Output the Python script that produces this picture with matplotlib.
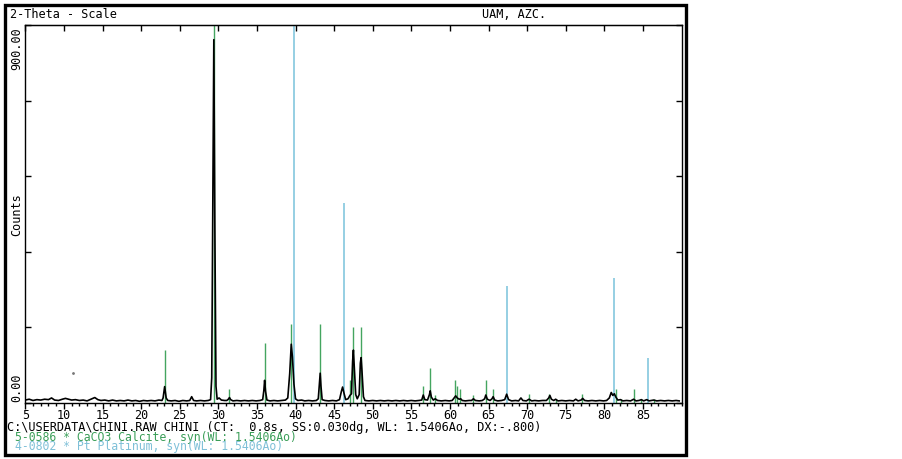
import matplotlib
matplotlib.use('Agg')
import matplotlib.pyplot as plt
from matplotlib.patches import Rectangle

W, H = 903, 459

# measured trace (2-theta, counts)
tt = [5.0, 5.5, 6.0, 6.5, 7.0, 7.5, 8.0, 8.4, 8.8, 9.3, 9.8, 10.2, 10.6, 11.0, 11.5,
      12.0, 12.5, 13.0, 13.5, 14.0, 14.4, 14.8, 15.3, 15.8, 16.3, 16.8, 17.3, 17.8,
      18.3, 18.8, 19.3, 19.8, 20.3, 20.8, 21.3, 21.8, 22.3, 22.7,
      22.85, 23.05, 23.25, 23.45, 23.9, 24.4, 24.9, 25.4, 25.9, 26.3, 26.55, 26.8,
      27.2, 27.7, 28.2, 28.7, 29.0,
      29.15, 29.3, 29.42, 29.55, 29.7, 29.85, 30.1, 30.4, 30.8, 31.1, 31.3, 31.45,
      31.6, 31.9, 32.4, 32.9, 33.4, 33.9, 34.4, 34.9, 35.4, 35.75, 35.9, 36.0,
      36.12, 36.3, 36.7, 37.2, 37.7, 38.2, 38.7, 39.0, 39.25, 39.45, 39.6, 39.8,
      40.0, 40.3, 40.8, 41.2, 41.7, 42.2, 42.7, 42.95, 43.1, 43.2, 43.3, 43.45,
      43.8, 44.3, 44.8, 45.3, 45.7, 45.95, 46.1, 46.3, 46.5, 46.8, 47.05, 47.25,
      47.4, 47.5, 47.6, 47.8, 48.0, 48.25, 48.4, 48.5, 48.6, 48.8, 49.0, 49.5,
      50.0, 50.5, 51.0, 51.5, 52.0, 52.5, 53.0, 53.5, 54.0, 54.5, 55.0, 55.5,
      56.0, 56.35, 56.55, 56.75, 57.1, 57.35, 57.45, 57.6, 57.85, 58.1, 58.4,
      58.9, 59.4, 59.9, 60.3, 60.55, 60.75, 60.95, 61.2, 61.4, 61.6, 62.0, 62.5,
      62.8, 63.05, 63.3, 63.8, 64.2, 64.5, 64.65, 64.85, 65.2, 65.45, 65.6, 65.8,
      66.2, 66.7, 67.1, 67.35, 67.6, 68.0, 68.5, 68.9, 69.2, 69.45, 69.9, 70.25,
      70.6, 71.0, 71.5, 72.0, 72.5, 72.8, 72.95, 73.15, 73.45, 73.7, 74.0, 74.5,
      75.0, 75.5, 76.0, 76.3, 76.6, 77.0, 77.2, 77.45, 77.9, 78.4, 78.9, 79.4,
      79.9, 80.3, 80.65, 80.9, 81.1, 81.3, 81.5, 81.75, 82.1, 82.4, 82.9, 83.4,
      83.8, 84.1, 84.5, 84.8, 85.1, 85.5, 85.8, 86.1, 86.4, 86.8, 87.3, 87.8,
      88.3, 88.8, 89.3, 89.7]
counts = [7, 9, 6, 8, 7, 9, 8, 12, 7, 6, 9, 11, 9, 7, 8,
          6, 7, 5, 9, 13, 8, 6, 7, 5, 7, 5, 6, 5,
          7, 5, 6, 4, 6, 5, 6, 5, 7, 6,
          12, 39, 12, 6, 5, 6, 4, 6, 5, 6, 15, 6,
          5, 6, 5, 6, 8,
          60, 520, 865, 430, 40, 9, 12, 7, 6, 6, 9, 13,
          8, 5, 6, 5, 6, 5, 6, 5, 6, 8, 30, 54,
          28, 7, 5, 6, 5, 6, 7, 12, 70, 140, 110, 45,
          10, 6, 7, 5, 6, 5, 6, 10, 45, 71, 40, 8,
          6, 5, 6, 5, 8, 28, 38, 22, 8, 10, 18, 22,
          100, 126, 90, 20, 10, 20, 95, 108, 80, 15, 6, 5,
          6, 5, 6, 5, 6, 5, 6, 5, 6, 5, 6, 5,
          6, 7, 19, 8, 7, 20, 29, 14, 7, 10, 6,
          5, 6, 5, 6, 12, 17, 12, 9, 10, 6, 5, 6,
          6, 10, 6, 5, 6, 10, 19, 9, 6, 10, 15, 7,
          5, 6, 8, 21, 8, 5, 6, 5, 12, 6, 5, 9,
          5, 6, 5, 6, 6, 12, 18, 9, 6, 9, 5, 6,
          5, 6, 5, 9, 5, 7, 11, 6, 5, 6, 5, 6,
          5, 6, 12, 25, 18, 22, 14, 7, 8, 5, 6, 5,
          9, 5, 6, 8, 5, 8, 5, 6, 7, 5, 6, 5,
          6, 5, 6, 5]

# reference patterns: position, relative intensity (%)
calcite_pos = [23.05, 29.40, 31.45, 36.00, 39.40, 43.15, 47.10, 47.50, 48.50,
               56.55, 57.40, 58.10, 60.65, 60.95, 61.35, 63.05, 64.65, 65.60,
               70.20, 72.90, 73.70, 77.15, 81.50, 82.10, 83.80, 84.80, 86.40]
calcite_int = [14, 100, 3.7, 16, 21, 21, 6, 20, 20,
               4.6, 9.2, 2, 6, 4.5, 3.6, 2, 6, 3.6,
               2.3, 2.3, 1, 2.3, 3.6, 1, 3.6, 1, 1]
pt_pos = [39.76, 46.24, 67.45, 81.29, 85.71]
pt_int = [100, 53, 31, 33, 12]

stray_pt = (11.2, 72)

green = '#44a560'
blue = '#8ecbe0'
mono = 'DejaVu Sans Mono'
fs = 8.5

fig = plt.figure(figsize=(W / 100, H / 100), dpi=100)
ax = fig.add_axes([25.3 / W, 1 - 403 / H, (681.5 - 25.3) / W, 378 / H])

ymax = 900
ax.vlines(calcite_pos, 0, [v / 100 * ymax for v in calcite_int], color=green, lw=1.0, zorder=2)
ax.vlines(pt_pos, 0, [v / 100 * ymax for v in pt_int], color=blue, lw=1.3, zorder=2)
ax.plot(tt, counts, color='black', lw=1.2, zorder=3)
ax.plot([stray_pt[0]], [stray_pt[1]], marker='o', ms=1.0, color='#777777', lw=0)

ax.set_xlim(5, 90)
ax.set_ylim(0, ymax)

ax.set_xticks(range(5, 90, 5))
ax.set_xticklabels([str(v) for v in range(5, 90, 5)], family=mono, fontsize=fs)
ax.set_xticks(range(5, 91), minor=True)
ax.tick_params(axis='x', which='major', direction='out', length=4, width=1, pad=0.5)
ax.tick_params(axis='x', which='minor', direction='out', length=2, width=1)
top = ax.secondary_xaxis('top')
top.set_xticks(range(5, 90, 5))
top.tick_params(direction='in', length=4, width=1, labeltop=False)
top.set_xticklabels([])

ax.set_yticks([0, 180, 360, 540, 720, 900])
ax.set_yticklabels([])
ax.tick_params(axis='y', direction='in', length=4, width=1, left=True, right=True)

for sp in ax.spines.values():
    sp.set_linewidth(1)

def ftext(x, y, s, size=fs, **kw):
    fig.text(x / W, 1 - y / H, s, family=mono, fontsize=size, **kw)

ftext(10, 14, '2-Theta - Scale', va='center', ha='left')
ftext(482, 14, 'UAM, AZC.', va='center', ha='left')
ftext(17, 27, '900.00', rotation=90, va='top', ha='center')
ftext(17, 402, '0.00', rotation=90, va='bottom', ha='center')
ftext(17, 215, 'Counts', rotation=90, va='center', ha='center')
ftext(7, 427.5, 'C:\\USERDATA\\CHINI.RAW CHINI (CT:  0.8s, SS:0.030dg, WL: 1.5406Ao, DX:-.800)',
      size=8.6, va='center', ha='left')
ftext(15, 437, '5-0586 * CaCO3 Calcite, syn(WL: 1.5406Ao)', size=8.3, va='center', ha='left',
      color='#3a9e58')
ftext(15, 446.5, '4-0802 * Pt Platinum, syn(WL: 1.5406Ao)', size=8.3, va='center', ha='left',
      color='#7fc0d8')

fig.patches.append(Rectangle((5 / W, 1 - 455 / H), 681 / W, 450 / H, transform=fig.transFigure,
                             fill=False, edgecolor='black', lw=2.4))

fig.savefig('out.png', dpi=100)
